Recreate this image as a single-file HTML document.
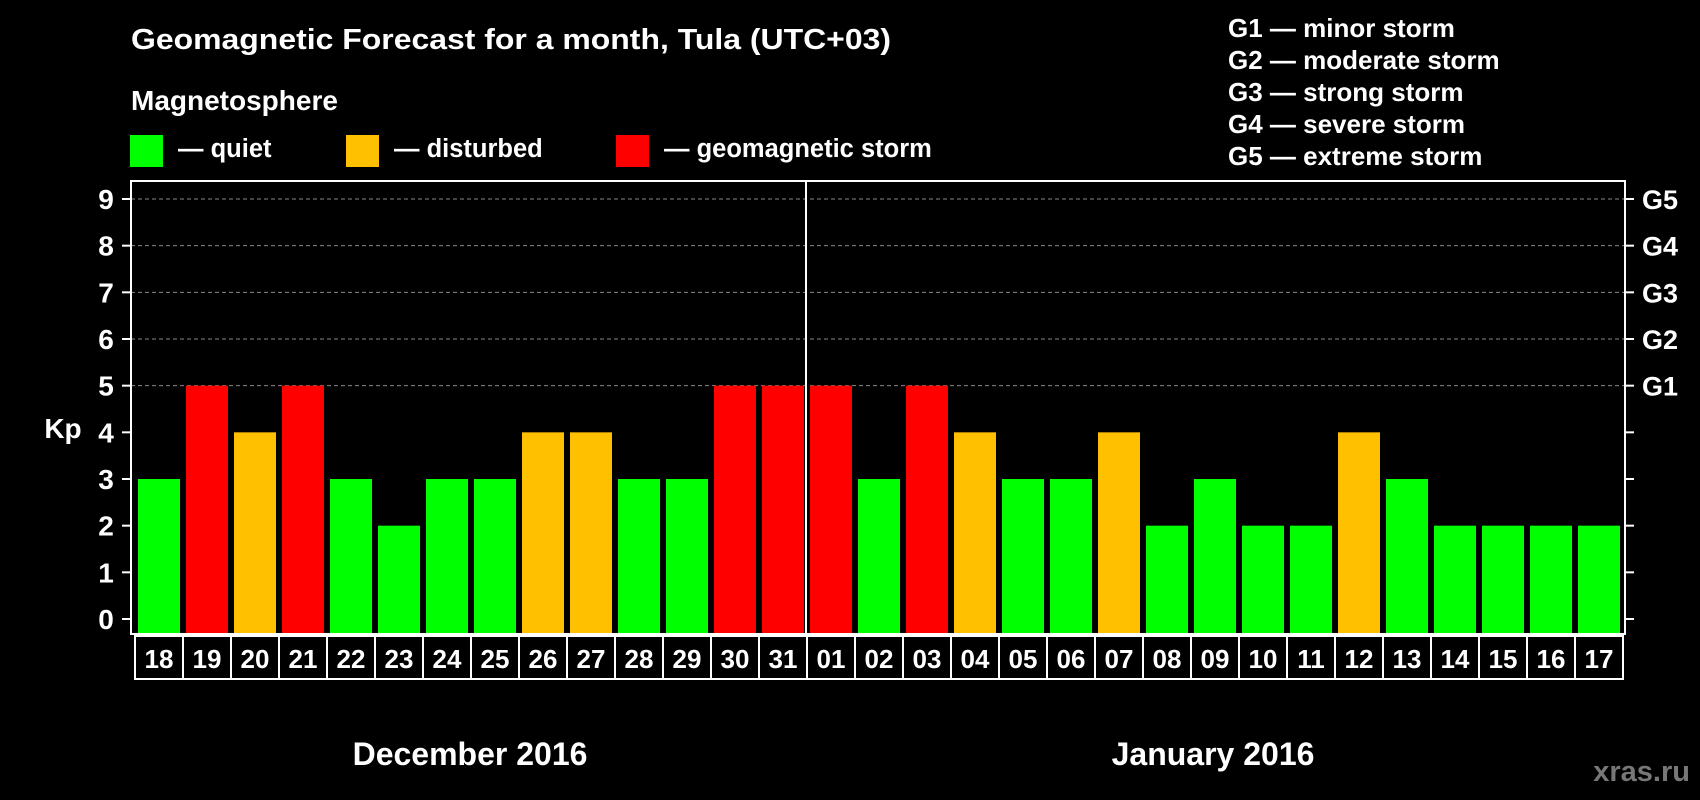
<!DOCTYPE html>
<html><head><meta charset="utf-8"><style>
html,body{margin:0;padding:0;background:#000;}
svg{display:block;font-family:"Liberation Sans",Arial,sans-serif;font-weight:bold;}
</style></head><body>
<svg id="chart" width="1700" height="800" viewBox="0 0 1700 800" xmlns="http://www.w3.org/2000/svg">
<rect width="1700" height="800" fill="#000"/>
<text x="131" y="49" fill="#fff" font-size="29" textLength="760" lengthAdjust="spacingAndGlyphs">Geomagnetic Forecast for a month, Tula (UTC+03)</text>
<text x="131" y="110" fill="#fff" font-size="28">Magnetosphere</text>
<g><rect x="130" y="135" width="33" height="32" fill="#00ff00"/><text x="178" y="157" fill="#fff" font-size="25.5">— quiet</text></g>
<g><rect x="346" y="135" width="33" height="32" fill="#ffc000"/><text x="394" y="157" fill="#fff" font-size="25.5">— disturbed</text></g>
<g><rect x="616" y="135" width="33" height="32" fill="#ff0000"/><text x="664" y="157" fill="#fff" font-size="25.5">— geomagnetic storm</text></g>
<g fill="#fff" font-size="26">
<text x="1228" y="37">G1 — minor storm</text>
<text x="1228" y="69">G2 — moderate storm</text>
<text x="1228" y="101">G3 — strong storm</text>
<text x="1228" y="133">G4 — severe storm</text>
<text x="1228" y="165">G5 — extreme storm</text>
</g>
<text x="63" y="438" fill="#fff" font-size="28" text-anchor="middle">Kp</text>
<g id="plot"></g>
<text x="470" y="765" fill="#fff" font-size="32" text-anchor="middle">December 2016</text>
<text x="1213" y="765" fill="#fff" font-size="32" text-anchor="middle">January 2016</text>
<text x="1690" y="781" fill="#777" font-size="29" text-anchor="end">xras.ru</text>
</svg>
<script>
const days = ["18","19","20","21","22","23","24","25","26","27","28","29","30","31","01","02","03","04","05","06","07","08","09","10","11","12","13","14","15","16","17"];
const kpValues = [3,5,4,5,3,2,3,3,4,4,3,3,5,5,5,3,5,4,3,3,4,2,3,2,2,4,3,2,2,2,2];
const yTicks = [0,1,2,3,4,5,6,7,8,9];
const gLabels = ["","","","","","G1","G2","G3","G4","G5"];
(function(){
const NS="http://www.w3.org/2000/svg";
const plot=document.getElementById('plot');
const pLeft=131,pRight=1625,pTop=181,pBottom=634,cellX0=135,pitch=48,barW=42;
const y=v=>619-v*(420/9);
const x=i=>cellX0+i*pitch;
function mk(tag,attrs){const e=document.createElementNS(NS,tag);for(const k in attrs)e.setAttribute(k,attrs[k]);plot.appendChild(e);return e;}
yTicks.forEach((t,i)=>{
  if(t>=5){const g=mk('line',{x1:pLeft,x2:pRight,y1:y(t),y2:y(t),stroke:'#888','stroke-width':1,'stroke-dasharray':'4 3'});
  
  }
  const tk=mk('line',{x1:122,x2:pLeft,y1:y(t),y2:y(t),stroke:'#fff','stroke-width':2});
  
  
  const tr=mk('line',{x1:pRight,x2:1634,y1:y(t),y2:y(t),stroke:'#fff','stroke-width':2});
  
  
  const lb=mk('text',{x:106,y:y(t)+10,fill:'#fff','font-size':28,'text-anchor':'middle'});lb.textContent=t;
  
  
  if(gLabels[i]){const gl=mk('text',{x:1642,y:y(t)+10,fill:'#fff','font-size':27});gl.textContent=gLabels[i];
  
  }
});
kpValues.forEach((v,i)=>{
  const col=v>=5?'#ff0000':(v>=4?'#ffc000':'#00ff00');
  const b=mk('rect',{x:x(i)+3,y:y(v),width:barW,height:pBottom-y(v),fill:col});
  
  
  const c=mk('rect',{x:x(i),y:636,width:pitch,height:43,fill:'none',stroke:'#fff','stroke-width':2});
  
  
  const t=mk('text',{x:x(i)+pitch/2,y:668,fill:'#fff','font-size':26,'text-anchor':'middle'});t.textContent=days[i];
  
  
});
const fr=mk('rect',{x:pLeft,y:pTop,width:pRight-pLeft,height:pBottom-pTop,fill:'none',stroke:'#fff','stroke-width':2});


const split=days.indexOf("01");
const dv=mk('line',{x1:x(split)-1,x2:x(split)-1,y1:pTop,y2:pBottom,stroke:'#fff','stroke-width':2});


})();
</script>
</body></html>
